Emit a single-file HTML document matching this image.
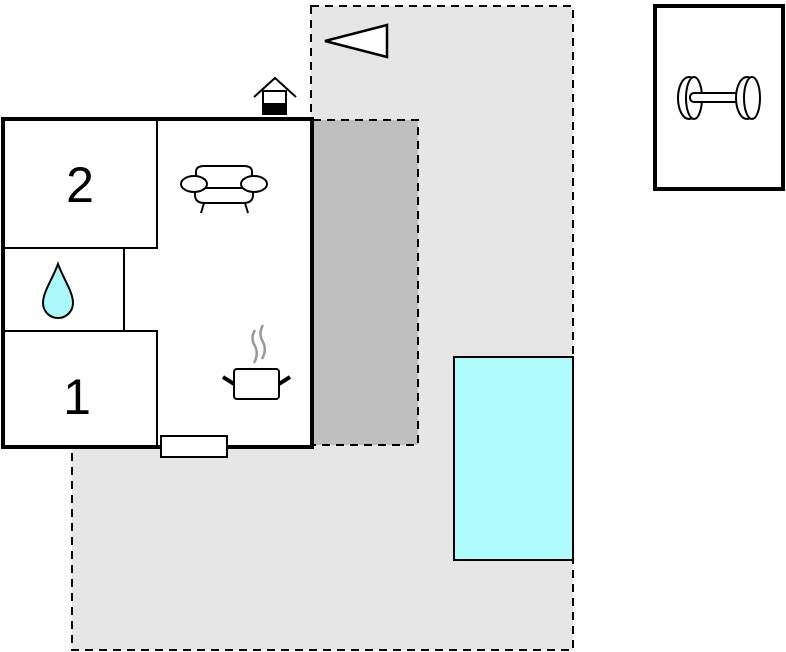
<!DOCTYPE html>
<html><head><meta charset="utf-8"><style>html,body{margin:0;padding:0;background:#fff}svg{display:block}</style></head>
<body>
<svg width="786" height="652" viewBox="0 0 786 652" xmlns="http://www.w3.org/2000/svg">
<path d="M311 6 H573 V650 H72 V447 H311 Z" fill="#e6e6e6" stroke="#000" stroke-width="2" stroke-dasharray="8,6"/>
<rect x="313" y="120" width="105" height="325" fill="#bfbfbf" stroke="#000" stroke-width="2" stroke-dasharray="8,6"/>
<rect x="3" y="119" width="309" height="328" fill="#fff" stroke="#000" stroke-width="4"/>
<path d="M3 248 H157 V119 M3 331 H124 V248 M3 331 H157 V447" fill="none" stroke="#000" stroke-width="2"/>
<text x="80" y="202" font-family="Liberation Sans, sans-serif" font-size="50" text-anchor="middle">2</text>
<text x="77" y="414" font-family="Liberation Sans, sans-serif" font-size="50" text-anchor="middle">1</text>
<path d="M58 264 C52 280 43 292 43 303 A15 15 0 0 0 73 303 C73 292 64 280 58 264 Z" fill="#aaf8fa" stroke="#000" stroke-width="2"/>
<rect x="161" y="436" width="66" height="21" fill="#fff" stroke="#000" stroke-width="2"/>
<rect x="454" y="357" width="119" height="203" fill="#aefcfc" stroke="#000" stroke-width="2"/>
<rect x="655" y="6" width="128" height="183" fill="#fff" stroke="#000" stroke-width="4"/>
<!-- triangle -->
<path d="M325 41 L387 25 L387 57 Z" fill="#fff" stroke="#000" stroke-width="2.5"/>
<!-- small house icon -->
<path d="M254 97 L275 78 L296 97" fill="none" stroke="#000" stroke-width="2"/>
<rect x="263" y="91" width="23" height="23" fill="#fff" stroke="#000" stroke-width="2"/>
<rect x="263" y="103" width="23" height="12" fill="#000"/>
<!-- sofa -->
<g fill="#fff" stroke="#000" stroke-width="2">
<path d="M196 177 V172 Q196 166 204 166 H244 Q252 166 252 172 V177"/>
<path d="M195 187 V195 Q195 203 205 203 H243 Q253 203 253 195 V187"/>
<line x1="202" y1="188" x2="246" y2="188"/>
<ellipse cx="194" cy="184" rx="13" ry="8"/>
<ellipse cx="254" cy="184" rx="13" ry="8"/>
<line x1="204" y1="203" x2="201" y2="213"/>
<line x1="245" y1="203" x2="248" y2="213"/>
</g>
<!-- pot -->
<path d="M255 330 Q250 338 255 346 Q259 354 254 363 M263 325 Q258 334 263 342 Q267 350 262 359" fill="none" stroke="#999" stroke-width="2.5"/>
<rect x="234" y="369" width="45" height="30" rx="3" fill="#fff" stroke="#000" stroke-width="2"/>
<path d="M223 377 L234 384 M290 377 L279 384" stroke="#000" stroke-width="4"/>
<!-- car -->
<g fill="#fff" stroke="#000" stroke-width="2">
<ellipse cx="689" cy="98" rx="11" ry="21"/>
<ellipse cx="694" cy="98" rx="8" ry="21"/>
<rect x="690" y="93" width="52" height="9" rx="4"/>
<ellipse cx="747" cy="98" rx="11" ry="21"/>
<ellipse cx="752" cy="98" rx="8" ry="21"/>
</g>
</svg>
</body></html>
